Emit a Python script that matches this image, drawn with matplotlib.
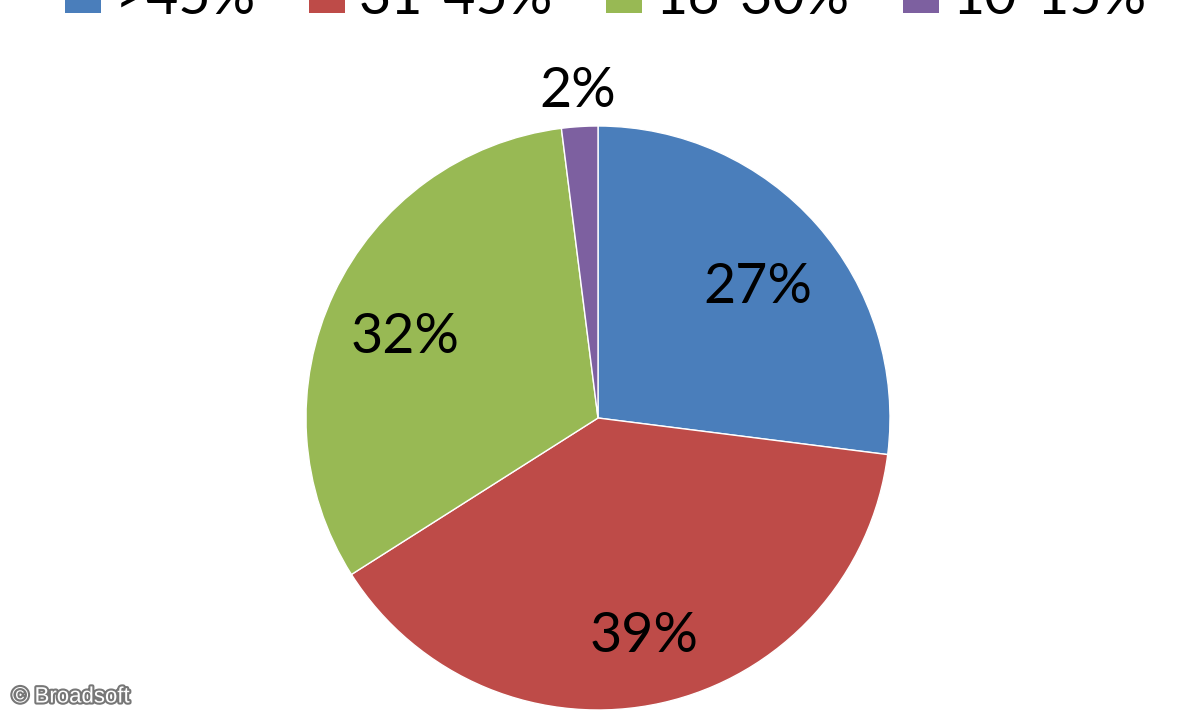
import numpy as np
import matplotlib
matplotlib.use("Agg")
import matplotlib.pyplot as plt
import matplotlib.patheffects as pe
from matplotlib.patches import Patch

categories = [">45%", "31-45%", "16-30%", "10-15%"]
values = [27, 39, 32, 2]
colors = ["#4A7EBB", "#BE4B48", "#98B954", "#7D60A0"]

plt.rcParams['font.family'] = ['Lato', 'DejaVu Sans']

W, H = 1200, 720
fig = plt.figure(figsize=(12, 7.2), dpi=100)
cx, cy, r = 598, 418, 292
ax = fig.add_axes([(cx - r) / W, (H - cy - r) / H, 2 * r / W, 2 * r / H])

wedges, texts, autotexts = ax.pie(
    values, colors=colors, startangle=90, counterclock=False,
    autopct=lambda p: f"{p:.0f}%", pctdistance=0.73,
    wedgeprops=dict(edgecolor="white", linewidth=1.0),
    textprops=dict(fontsize=40, color="black"),
)
ax.set_xlim(-1, 1)
ax.set_ylim(-1, 1)
ax.set_aspect("equal")
ax.axis("off")

# small slice label outside
for w, t, v in zip(wedges, autotexts, values):
    t.set_clip_on(False)
    ang = np.deg2rad((w.theta1 + w.theta2) / 2)
    if v < 5:
        t.set_position((1.12 * np.cos(ang), 1.12 * np.sin(ang)))
    else:
        x, y = t.get_position()
        t.set_position((x, y - 0.035))

handles = [Patch(facecolor=c, edgecolor="none") for c in colors]
fig.legend(handles, categories, loc="center", bbox_to_anchor=(0.505, 1.002),
           ncol=4, frameon=False, fontsize=40, handlelength=0.65,
           handleheight=0.65, handletextpad=0.25, columnspacing=0.95)

fig.text(12 / W, 1 - 697 / H, "© Broadsoft", fontsize=16, color="white",
         family=["Liberation Sans", "DejaVu Sans"], va="center", ha="left",
         path_effects=[pe.withStroke(linewidth=3, foreground="#777777")])

fig.savefig("out.png", dpi=100, facecolor="white")
